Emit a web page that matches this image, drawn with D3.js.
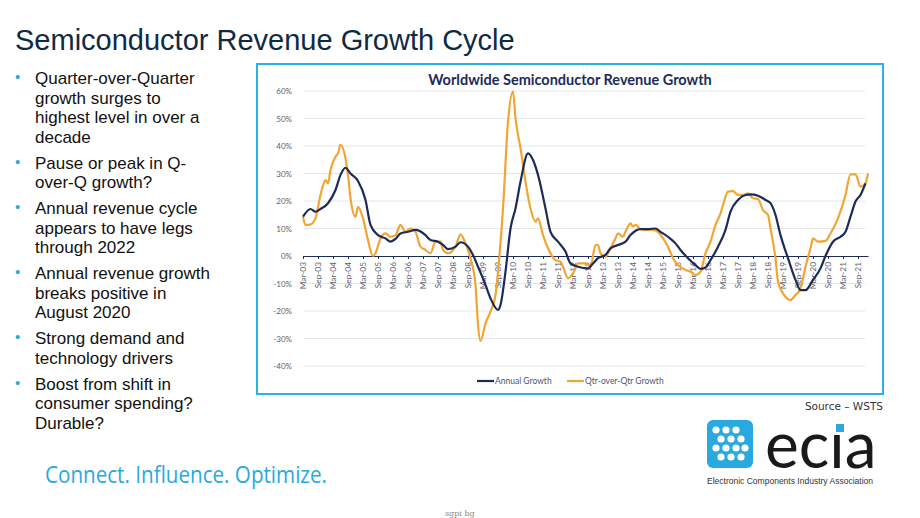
<!DOCTYPE html>
<html>
<head>
<meta charset="utf-8">
<script src="https://cdn.jsdelivr.net/npm/d3@7"></script>
<style>
  body { margin: 0; background: #fff; }
  svg { display: block; }
</style>
</head>
<body>
<div id="slide"></div>
<script>
// months counted from Mar-03 (0 = Mar-03)
const annualMonth = [0, 3, 5, 7, 10, 13, 15, 17, 19, 22, 25, 27, 30, 33, 35, 37, 39, 42, 45, 49, 51, 54, 56, 58, 61, 63, 66, 68, 70, 73, 75, 78, 79, 81, 83, 85, 87, 90, 92, 94, 97, 99, 102, 105, 107, 110, 114, 116, 118, 121, 123, 126, 129, 131, 135, 138, 141, 143, 146, 149, 151, 154, 157, 159, 161, 163, 166, 169, 171, 174, 177, 179, 182, 185, 187, 189, 191, 194, 197, 199, 201, 204, 207, 209, 212, 215, 217, 219, 221, 223, 225];
const annualGrowth = [14.3, 17.1, 16.1, 17.1, 19.2, 24, 29.5, 32.1, 30, 27.3, 20.4, 11.3, 7.6, 6.4, 5.2, 6.2, 8.2, 8.8, 9.5, 7.6, 5.8, 5.2, 4, 2.5, 3.4, 5, 3.4, 0.4, -3.9, -10.5, -15.4, -19.6, -17.8, -5.7, 10, 17.3, 27, 37.3, 34.9, 29.5, 17.3, 8.8, 5.2, 1.6, -2.7, -3.9, -4.5, -2.7, -0.8, 0.4, 2.8, 4, 5.2, 7.6, 9.8, 9.8, 10, 8.8, 7, 4.6, 2.2, -0.8, -3.3, -4.7, -4.2, -1.5, 3.4, 9.5, 16.1, 20.4, 22.2, 22.4, 21.9, 20.4, 19.2, 14.9, 7.6, -0.8, -8.7, -12.4, -12.4, -8.7, -4.5, 0, 5.2, 7, 8.8, 14.3, 19.8, 22.2, 26.4];

const qoqMonth = [0, 1, 3, 5, 7, 9, 10, 11, 13, 14, 15, 17, 18, 19, 21, 22, 24, 26, 28, 29, 31, 33, 35, 37, 39, 41, 43, 45, 47, 49, 51, 53, 55, 56, 58, 61, 63, 65, 67, 69, 70, 71, 73, 75, 77, 78, 80, 82, 84, 85, 87, 89, 91, 93, 94, 96, 98, 101, 103, 104, 106, 108, 110, 113, 115, 117, 118, 119, 121, 123, 125, 126, 128, 129, 131, 132, 133, 135, 137, 140, 142, 144, 146, 148, 150, 153, 155, 157, 159, 161, 163, 165, 167, 168, 170, 172, 174, 176, 178, 180, 182, 184, 186, 187, 189, 190, 192, 195, 197, 199, 201, 203, 204, 206, 209, 211, 214, 217, 219, 221, 223, 225, 226];
const qoqGrowth = [14.3, 11.3, 11.5, 13.7, 22.2, 27.6, 26.4, 31.3, 36.1, 37.3, 40.4, 35.5, 29.5, 21, 14.3, 17.9, 13.7, 5.8, 0, 1, 6.4, 8.2, 7, 7.6, 11.3, 8.8, 10, 8.8, 3.4, 2.2, 1, 5.2, 5.2, 2.2, 1, 3.4, 7.9, 4.6, -0.8, -10.5, -25, -30.9, -24.5, -20.2, -14.2, -5.7, 17.3, 48.8, 59.8, 50, 39.2, 27, 17.3, 12.5, 13.7, 7.6, 2.8, -1.5, -2.1, -3.9, -8.1, -6.3, -2.7, -2.7, -3.9, 4, 4, 1, -0.2, 2.8, 6.4, 8.2, 7, 8.8, 11.9, 10.7, 11.3, 9.8, 9.5, 9.5, 8.8, 6.4, 3.4, -0.8, -3.3, -5.1, -5.7, -6.9, -5.7, 1, 5.2, 11.3, 15.5, 18.5, 23.4, 23.6, 22.2, 22.2, 22.8, 21, 20.7, 16.7, 14.9, 10, -0.8, -9.3, -13.6, -16, -14.2, -11.8, -3.9, 2.8, 6.4, 5.2, 5.5, 8.2, 13.7, 22.2, 29.7, 29.7, 25.2, 26.4, 30.1];

const tickLabels = ['Mar-03', 'Sep-03', 'Mar-04', 'Sep-04', 'Mar-05', 'Sep-05', 'Mar-06', 'Sep-06', 'Mar-07', 'Sep-07',
  'Mar-08', 'Sep-08', 'Mar-09', 'Sep-09', 'Mar-10', 'Sep-10', 'Mar-11', 'Sep-11', 'Mar-12', 'Sep-12',
  'Mar-13', 'Sep-13', 'Mar-14', 'Sep-14', 'Mar-15', 'Sep-15', 'Mar-16', 'Sep-16', 'Mar-17', 'Sep-17',
  'Mar-18', 'Sep-18', 'Mar-19', 'Sep-19', 'Mar-20', 'Sep-20', 'Mar-21', 'Sep-21'];
const yTicks = [-40, -30, -20, -10, 0, 10, 20, 30, 40, 50, 60];

const bullets = [
  ['Quarter-over-Quarter', 'growth surges to', 'highest level in over a', 'decade'],
  ['Pause or peak in Q-', 'over-Q growth?'],
  ['Annual revenue cycle', 'appears to have legs', 'through 2022'],
  ['Annual revenue growth', 'breaks positive in', 'August 2020'],
  ['Strong demand and', 'technology drivers'],
  ['Boost from shift in', 'consumer spending?', 'Durable?']
];

const navy = '#1d2b59';
const orange = '#f2a531';
const blue = '#29a9df';

const svg = d3.select('#slide')
  .append('svg')
  .attr('width', 920)
  .attr('height', 518);

// slide title
svg.append('text')
  .attr('x', 15)
  .attr('y', 50)
  .attr('font-family', 'Liberation Sans, Arial, sans-serif')
  .attr('font-size', 29)
  .attr('fill', '#0f2a44')
  .text('Semiconductor Revenue Growth Cycle');

// bullet list
let by = 84;
bullets.forEach(lines => {
  svg.append('text')
    .attr('x', 15)
    .attr('y', by - 2)
    .attr('font-family', 'Liberation Sans, Arial, sans-serif')
    .attr('font-size', 15)
    .attr('fill', blue)
    .text('\u2022');
  lines.forEach((l, i) => {
    svg.append('text')
      .attr('x', 35)
      .attr('y', by + i * 19.5)
      .attr('font-family', 'Liberation Sans, Arial, sans-serif')
      .attr('font-size', 17)
      .attr('fill', '#111')
      .text(l);
  });
  by += lines.length * 19.5 + 6.5;
});

// chart frame
svg.append('rect')
  .attr('x', 257)
  .attr('y', 64)
  .attr('width', 626)
  .attr('height', 330)
  .attr('fill', '#fff')
  .attr('stroke', '#2cb1e6')
  .attr('stroke-width', 2);

svg.append('text')
  .attr('x', 570)
  .attr('y', 85)
  .attr('text-anchor', 'middle')
  .attr('font-family', 'Lato, sans-serif')
  .attr('font-weight', 'bold')
  .attr('font-size', 14.5)
  .attr('fill', navy)
  .text('Worldwide Semiconductor Revenue Growth');

const x = d3.scaleLinear().domain([0, 226]).range([303, 868]);
const y = d3.scaleLinear().domain([-40, 60]).range([366, 91]);

// gridlines
svg.append('g')
  .selectAll('line')
  .data(yTicks.filter(d => d !== 0))
  .enter()
  .append('line')
  .attr('x1', 304)
  .attr('x2', 865)
  .attr('y1', d => y(d))
  .attr('y2', d => y(d))
  .attr('stroke', '#e3e6ea')
  .attr('stroke-width', 1);

const yAxis = svg.append('g')
  .attr('transform', 'translate(295,0)')
  .call(d3.axisLeft(y).tickValues(yTicks).tickSize(0).tickFormat(d => d + '%'));
yAxis.select('.domain').remove();
yAxis.selectAll('text')
  .attr('font-family', 'Lato, sans-serif')
  .attr('font-size', 8)
  .attr('fill', '#5b5f66');

const xAxis = svg.append('g')
  .attr('transform', 'translate(0,' + y(0) + ')')
  .call(d3.axisBottom(x)
    .tickValues(tickLabels.map((d, i) => i * 6))
    .tickFormat((d, i) => tickLabels[i])
    .tickSize(3)
    .tickSizeOuter(0));
xAxis.select('.domain').attr('stroke', navy).attr('stroke-width', 1.2);
xAxis.selectAll('.tick line').attr('stroke', navy);
xAxis.selectAll('text')
  .attr('font-family', 'Lato, sans-serif')
  .attr('font-size', 8.3)
  .attr('fill', '#5b6070')
  .attr('text-anchor', 'end')
  .attr('transform', 'rotate(-90)')
  .attr('x', -6)
  .attr('y', 0)
  .attr('dy', '0.32em');

const line = d3.line()
  .x(d => x(d[0]))
  .y(d => y(d[1]))
  .curve(d3.curveMonotoneX);

svg.append('path')
  .datum(qoqMonth.map((m, i) => [m, qoqGrowth[i]]))
  .attr('d', line)
  .attr('fill', 'none')
  .attr('stroke', orange)
  .attr('stroke-width', 2.2)
  .attr('stroke-linejoin', 'round');

svg.append('path')
  .datum(annualMonth.map((m, i) => [m, annualGrowth[i]]))
  .attr('d', line)
  .attr('fill', 'none')
  .attr('stroke', navy)
  .attr('stroke-width', 2.2)
  .attr('stroke-linejoin', 'round');

// legend
const legend = [
  { name: 'Annual Growth', color: navy, x: 477 },
  { name: 'Qtr-over-Qtr Growth', color: orange, x: 567 }
];
const lg = svg.append('g')
  .selectAll('g')
  .data(legend)
  .enter()
  .append('g')
  .attr('transform', d => 'translate(' + d.x + ',381)');
lg.append('line')
  .attr('x1', 0).attr('x2', 17)
  .attr('stroke', d => d.color)
  .attr('stroke-width', 2.2);
lg.append('text')
  .attr('x', 18)
  .attr('dy', '0.32em')
  .attr('font-family', 'Lato, sans-serif')
  .attr('font-size', 8.5)
  .attr('fill', '#4f5670')
  .text(d => d.name);

// source
svg.append('text')
  .attr('x', 883)
  .attr('y', 410)
  .attr('text-anchor', 'end')
  .attr('font-family', 'DejaVu Sans, sans-serif')
  .attr('font-size', 10.5)
  .attr('fill', '#333')
  .text('Source \u2013 WSTS');

// ecia logo
const logo = svg.append('g').attr('transform', 'translate(707,420)');
logo.append('rect')
  .attr('width', 46).attr('height', 48).attr('rx', 6)
  .attr('fill', blue);
const dots = [[9, 10], [19, 10], [29, 10], [14, 19], [24, 19], [34, 19], [9, 28], [19, 28], [29, 28], [38, 28], [14, 37], [24, 37], [34, 37]];
logo.selectAll('circle')
  .data(dots)
  .enter()
  .append('circle')
  .attr('cx', d => d[0])
  .attr('cy', d => d[1])
  .attr('r', 3.6)
  .attr('fill', '#fff');
logo.append('text')
  .attr('x', 58)
  .attr('y', 48)
  .attr('font-family', 'Lato, sans-serif')
  .attr('font-size', 64)
  .attr('fill', '#1a1a1a')
  .text('ec\u0131a');
logo.append('rect')
  .attr('x', 129).attr('y', 4).attr('width', 8).attr('height', 8)
  .attr('fill', blue);
svg.append('text')
  .attr('x', 707)
  .attr('y', 484)
  .attr('font-family', 'Liberation Sans Narrow, Liberation Sans, sans-serif')
  .attr('font-size', 9)
  .attr('fill', '#333')
  .attr('textLength', 166)
  .attr('lengthAdjust', 'spacingAndGlyphs')
  .text('Electronic Components Industry Association');

svg.append('text')
  .attr('x', 45)
  .attr('y', 483)
  .attr('font-family', 'Open Sans, sans-serif')
  .attr('font-size', 23)
  .attr('fill', blue)
  .attr('textLength', 282)
  .attr('lengthAdjust', 'spacingAndGlyphs')
  .text('Connect. Influence. Optimize.');

svg.append('text')
  .attr('x', 445)
  .attr('y', 516)
  .attr('font-family', 'DejaVu Serif, serif')
  .attr('font-size', 8)
  .attr('fill', '#888')
  .text('sgpi bg');
</script>
</body>
</html>
